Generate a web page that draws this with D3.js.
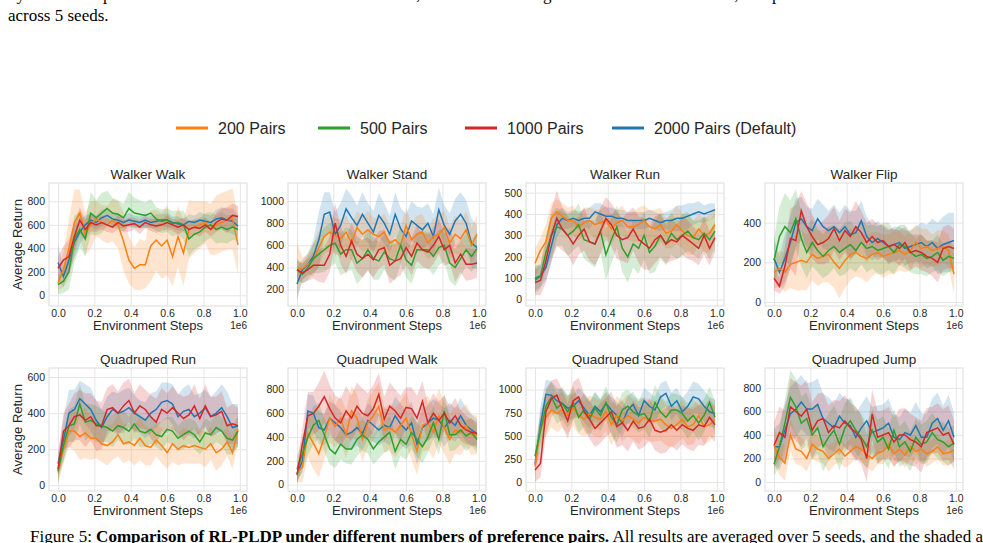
<!DOCTYPE html>
<html>
<head>
<meta charset="utf-8">
<script src="https://cdn.jsdelivr.net/npm/d3@7"></script>
<style>
  body { margin: 0; background: #fff; }
  svg { display: block; }
  text { font-family: 'Liberation Sans', Arial, sans-serif; fill: #262626; }
  .caption { font-family: 'Liberation Serif', 'Times New Roman', serif; fill: #000; }
</style>
</head>
<body>
<svg id="d" width="983" height="543"></svg>
<script>
(function (d3) {
  'use strict';

  // x positions (in 1e6 environment steps)
  const steps = [0, 0.03, 0.06, 0.09, 0.12, 0.15, 0.18, 0.21, 0.24, 0.27, 0.30, 0.33, 0.36, 0.39, 0.42, 0.45, 0.48,
    0.51, 0.54, 0.57, 0.60, 0.63, 0.66, 0.69, 0.72, 0.75, 0.78, 0.81, 0.84, 0.87, 0.90, 0.93, 0.96, 0.99];

  const seriesNames = ['200 Pairs', '500 Pairs', '1000 Pairs', '2000 Pairs (Default)'];
  const seriesKeys = ['p200', 'p500', 'p1000', 'p2000'];

  // ---- Walker Walk ----
  const walkerWalk2000 = [280, 160, 300, 450, 540, 600, 640, 620, 660, 680, 650, 640, 620, 640, 630, 620, 640, 620, 630, 640, 640, 620, 610, 600, 630, 620, 640, 630, 620, 650, 660, 640, 630, 590];
  const walkerWalk1000 = [230, 300, 330, 500, 640, 560, 620, 600, 620, 600, 580, 620, 590, 600, 610, 580, 620, 600, 590, 600, 620, 600, 580, 600, 560, 580, 570, 600, 560, 620, 650, 640, 680, 670];
  const walkerWalk500 = [90, 120, 200, 480, 560, 480, 700, 660, 700, 740, 700, 690, 660, 740, 700, 690, 680, 700, 650, 630, 640, 610, 620, 600, 480, 520, 540, 580, 600, 560, 580, 560, 580, 560];
  const walkerWalk200 = [100, 220, 400, 620, 700, 520, 600, 650, 620, 600, 640, 600, 460, 300, 230, 260, 260, 420, 470, 420, 470, 330, 500, 360, 560, 580, 600, 620, 560, 600, 620, 640, 650, 430];
  const walkerWalk2000Sd = [150, 90, 110, 130, 110, 80, 60, 60, 70, 60, 50, 60, 50, 60, 50, 50, 60, 50, 60, 50, 60, 50, 60, 50, 60, 60, 70, 60, 60, 80, 90, 100, 110, 90];
  const walkerWalk1000Sd = [100, 120, 150, 120, 110, 90, 80, 60, 60, 60, 50, 60, 50, 60, 50, 60, 50, 50, 60, 50, 60, 50, 60, 60, 60, 60, 70, 60, 60, 80, 90, 110, 100, 90];
  const walkerWalk500Sd = [80, 100, 150, 200, 150, 150, 180, 150, 170, 150, 130, 120, 120, 140, 130, 120, 110, 120, 100, 100, 100, 110, 100, 120, 150, 130, 120, 120, 110, 120, 130, 120, 110, 100];
  const walkerWalk200Sd = [60, 150, 250, 280, 200, 180, 200, 150, 150, 160, 180, 200, 250, 200, 180, 220, 200, 300, 260, 280, 300, 250, 260, 280, 250, 220, 200, 180, 220, 250, 250, 250, 260, 250];

  // ---- Walker Stand ----
  const walkerStand2000 = [250, 380, 430, 500, 650, 880, 900, 700, 780, 930, 850, 780, 880, 800, 720, 870, 800, 700, 880, 750, 680, 820, 780, 740, 800, 680, 920, 780, 700, 820, 880, 800, 620, 580];
  const walkerStand1000 = [380, 350, 380, 420, 420, 420, 520, 800, 600, 500, 640, 520, 480, 520, 470, 560, 580, 420, 460, 480, 580, 500, 620, 560, 540, 600, 680, 560, 600, 440, 520, 430, 430, 440];
  const walkerStand500 = [380, 340, 400, 480, 520, 560, 600, 620, 520, 560, 560, 440, 480, 560, 480, 460, 540, 480, 460, 600, 470, 420, 560, 560, 560, 500, 580, 600, 440, 400, 480, 560, 500, 570];
  const walkerStand200 = [380, 390, 430, 470, 580, 680, 720, 690, 660, 720, 620, 760, 700, 740, 700, 680, 720, 620, 650, 600, 780, 650, 700, 720, 620, 680, 700, 760, 620, 700, 660, 740, 600, 700];
  const walkerStand2000Sd = [150, 90, 100, 150, 250, 200, 180, 200, 200, 180, 200, 180, 200, 180, 190, 200, 180, 170, 200, 190, 200, 180, 170, 200, 180, 200, 200, 180, 190, 200, 200, 210, 220, 200];
  const walkerStand1000Sd = [80, 90, 100, 120, 150, 160, 160, 180, 170, 160, 170, 160, 170, 150, 160, 170, 160, 170, 160, 150, 160, 170, 160, 150, 160, 170, 160, 150, 160, 170, 160, 150, 140, 130];
  const walkerStand500Sd = [100, 90, 110, 130, 170, 200, 200, 180, 190, 200, 180, 190, 170, 180, 190, 170, 160, 170, 180, 170, 160, 170, 160, 170, 160, 170, 160, 150, 160, 170, 160, 150, 140, 150];
  const walkerStand200Sd = [250, 100, 90, 150, 160, 150, 170, 160, 170, 150, 160, 150, 160, 170, 150, 160, 170, 160, 150, 170, 160, 150, 170, 160, 150, 160, 170, 160, 150, 170, 160, 170, 160, 170];

  // ---- Walker Run ----
  const walkerRun2000 = [100, 110, 150, 250, 350, 380, 370, 380, 370, 380, 380, 410, 400, 390, 390, 380, 380, 370, 370, 370, 370, 380, 370, 360, 370, 370, 380, 380, 390, 400, 410, 400, 410, 420];
  const walkerRun1000 = [80, 90, 180, 300, 380, 330, 300, 260, 300, 330, 270, 260, 320, 380, 350, 300, 280, 290, 330, 280, 260, 240, 280, 300, 260, 280, 270, 300, 280, 260, 240, 300, 240, 290];
  const walkerRun500 = [90, 110, 220, 300, 340, 330, 300, 320, 350, 280, 270, 260, 320, 210, 280, 340, 240, 200, 260, 240, 300, 220, 250, 300, 260, 310, 280, 300, 320, 290, 280, 310, 280, 320];
  const walkerRun200 = [170, 230, 270, 380, 410, 390, 370, 370, 340, 360, 370, 350, 360, 370, 330, 360, 370, 340, 340, 350, 370, 340, 330, 350, 310, 320, 350, 320, 300, 290, 330, 300, 310, 350];
  const walkerRun2000Sd = [60, 50, 60, 80, 60, 50, 40, 40, 40, 40, 50, 40, 50, 40, 40, 40, 40, 40, 40, 40, 40, 40, 40, 40, 40, 50, 60, 60, 60, 50, 50, 40, 40, 30];
  const walkerRun1000Sd = [60, 70, 100, 120, 130, 100, 90, 100, 90, 100, 90, 100, 110, 100, 100, 110, 100, 120, 100, 110, 120, 100, 110, 100, 90, 100, 80, 90, 90, 80, 80, 90, 80, 70];
  const walkerRun500Sd = [60, 60, 80, 100, 90, 80, 100, 90, 100, 90, 100, 110, 100, 120, 110, 100, 110, 120, 110, 120, 110, 100, 120, 110, 100, 100, 90, 100, 90, 80, 90, 80, 90, 80];
  const walkerRun200Sd = [70, 60, 80, 70, 60, 60, 60, 70, 60, 70, 60, 70, 60, 70, 70, 60, 70, 60, 70, 80, 70, 80, 90, 80, 70, 80, 90, 80, 90, 80, 70, 80, 90, 80];

  // ---- Walker Flip ----
  const walkerFlip2000 = [220, 150, 220, 300, 400, 420, 380, 360, 420, 380, 360, 380, 350, 380, 340, 350, 410, 330, 300, 320, 300, 280, 290, 300, 270, 280, 290, 300, 280, 300, 270, 290, 300, 310];
  const walkerFlip1000 = [120, 80, 180, 320, 310, 460, 380, 330, 290, 300, 320, 370, 310, 360, 330, 380, 350, 300, 330, 300, 310, 280, 290, 270, 300, 250, 260, 250, 230, 220, 200, 270, 280, 270];
  const walkerFlip500 = [210, 330, 380, 350, 420, 320, 250, 300, 260, 230, 260, 280, 250, 270, 290, 260, 300, 270, 280, 260, 270, 280, 250, 290, 280, 250, 230, 240, 220, 230, 250, 210, 230, 220];
  const walkerFlip200 = [150, 170, 150, 190, 200, 210, 200, 240, 220, 230, 240, 200, 170, 210, 240, 250, 230, 220, 240, 250, 230, 240, 250, 260, 240, 260, 300, 270, 280, 260, 270, 280, 260, 140];
  const walkerFlip2000Sd = [100, 80, 120, 130, 120, 110, 100, 110, 100, 110, 100, 110, 100, 110, 120, 110, 100, 100, 90, 90, 80, 80, 90, 80, 90, 80, 90, 100, 110, 120, 130, 140, 150, 140];
  const walkerFlip1000Sd = [60, 40, 100, 150, 180, 100, 120, 110, 100, 110, 120, 110, 100, 110, 120, 130, 110, 100, 90, 90, 80, 90, 80, 90, 80, 90, 80, 90, 80, 90, 100, 110, 110, 100];
  const walkerFlip500Sd = [110, 150, 170, 160, 150, 140, 130, 120, 110, 110, 120, 110, 120, 130, 120, 110, 110, 120, 110, 120, 130, 120, 110, 100, 110, 100, 90, 100, 90, 80, 90, 80, 80, 70];
  const walkerFlip200Sd = [80, 90, 100, 120, 140, 150, 140, 130, 140, 130, 140, 130, 150, 140, 130, 120, 110, 120, 110, 100, 110, 100, 110, 100, 90, 100, 90, 100, 90, 80, 90, 80, 80, 100];

  // ---- Quadruped Run ----
  const quadRun2000 = [120, 250, 400, 420, 480, 450, 420, 360, 320, 380, 420, 400, 410, 430, 400, 380, 360, 400, 420, 460, 470, 450, 380, 410, 420, 380, 400, 430, 380, 400, 430, 380, 320, 330];
  const quadRun1000 = [90, 300, 330, 380, 390, 360, 380, 330, 330, 420, 430, 400, 440, 470, 400, 440, 420, 380, 350, 420, 400, 430, 400, 370, 390, 440, 370, 440, 380, 390, 410, 330, 340, 330];
  const quadRun500 = [80, 220, 330, 340, 450, 350, 360, 340, 330, 320, 300, 330, 320, 300, 340, 300, 290, 310, 280, 270, 310, 300, 260, 280, 300, 280, 240, 290, 280, 320, 300, 260, 250, 300];
  const quadRun200 = [70, 200, 300, 300, 270, 290, 260, 260, 230, 220, 240, 280, 230, 240, 220, 260, 220, 210, 250, 220, 180, 230, 200, 220, 210, 220, 210, 200, 230, 180, 200, 240, 180, 310];
  const quadRun2000Sd = [60, 120, 130, 110, 100, 110, 120, 110, 100, 110, 100, 110, 120, 110, 100, 90, 100, 110, 100, 110, 100, 110, 120, 130, 140, 120, 110, 100, 110, 120, 130, 140, 130, 120];
  const quadRun1000Sd = [70, 100, 120, 130, 140, 150, 130, 140, 130, 120, 130, 120, 130, 120, 110, 120, 110, 120, 130, 120, 110, 120, 110, 120, 110, 120, 110, 120, 110, 100, 110, 100, 110, 100];
  const quadRun500Sd = [60, 80, 90, 100, 110, 100, 90, 100, 90, 80, 90, 80, 90, 80, 80, 90, 80, 80, 70, 80, 70, 80, 70, 80, 70, 80, 70, 80, 70, 80, 80, 90, 80, 80];
  const quadRun200Sd = [60, 80, 90, 110, 130, 140, 120, 110, 100, 110, 100, 120, 110, 100, 110, 120, 110, 100, 90, 100, 90, 100, 90, 100, 90, 100, 90, 100, 90, 100, 90, 80, 90, 80];

  // ---- Quadruped Walk ----
  const quadWalk2000 = [90, 200, 620, 600, 480, 460, 560, 520, 480, 420, 440, 480, 430, 540, 500, 460, 500, 480, 580, 510, 460, 520, 340, 480, 520, 560, 540, 480, 540, 500, 580, 500, 460, 430];
  const quadWalk1000 = [80, 340, 580, 600, 660, 740, 640, 560, 520, 620, 560, 660, 600, 580, 640, 760, 550, 660, 620, 560, 650, 640, 560, 700, 520, 600, 540, 600, 520, 580, 500, 460, 440, 430];
  const quadWalk500 = [130, 260, 400, 500, 540, 420, 300, 260, 340, 300, 300, 380, 420, 380, 300, 360, 400, 440, 280, 380, 340, 440, 380, 320, 400, 520, 380, 620, 420, 420, 460, 410, 440, 380];
  const quadWalk200 = [100, 150, 430, 350, 260, 400, 560, 490, 560, 420, 620, 560, 380, 520, 580, 660, 460, 480, 440, 500, 560, 420, 280, 500, 520, 440, 580, 480, 380, 460, 440, 500, 420, 420];
  const quadWalk2000Sd = [60, 100, 140, 150, 140, 130, 140, 150, 140, 130, 140, 150, 140, 150, 140, 130, 140, 150, 160, 170, 160, 180, 170, 160, 150, 160, 150, 160, 150, 140, 150, 140, 130, 120];
  const quadWalk1000Sd = [80, 150, 200, 180, 200, 220, 200, 190, 200, 210, 190, 200, 210, 190, 200, 180, 190, 200, 180, 190, 170, 180, 190, 170, 160, 170, 160, 150, 140, 150, 130, 120, 110, 100];
  const quadWalk500Sd = [110, 140, 150, 160, 150, 140, 130, 120, 130, 120, 130, 140, 130, 120, 130, 140, 130, 140, 150, 140, 130, 140, 150, 140, 130, 140, 130, 150, 140, 130, 120, 130, 120, 110];
  const quadWalk200Sd = [80, 130, 200, 220, 200, 190, 200, 180, 190, 200, 210, 200, 190, 200, 210, 200, 190, 200, 210, 200, 220, 210, 200, 220, 230, 220, 230, 220, 210, 200, 190, 180, 170, 160];

  // ---- Quadruped Stand ----
  const quadStand2000 = [200, 620, 950, 940, 880, 850, 800, 820, 880, 800, 720, 820, 760, 850, 780, 720, 640, 780, 840, 720, 880, 820, 780, 920, 960, 820, 880, 760, 820, 920, 900, 820, 760, 740];
  const quadStand1000 = [130, 200, 760, 900, 940, 800, 660, 880, 920, 760, 680, 580, 640, 700, 760, 600, 640, 560, 660, 580, 600, 680, 560, 540, 560, 620, 560, 620, 580, 560, 620, 600, 700, 620];
  const quadStand500 = [280, 550, 820, 920, 800, 850, 760, 860, 700, 780, 680, 800, 720, 860, 700, 620, 780, 820, 760, 720, 740, 660, 860, 760, 700, 780, 780, 740, 660, 720, 640, 720, 860, 700];
  const quadStand200 = [170, 580, 700, 780, 740, 780, 720, 800, 720, 680, 740, 700, 680, 760, 620, 720, 660, 720, 680, 640, 700, 660, 660, 680, 620, 580, 620, 680, 600, 620, 720, 600, 620, 680];
  const quadStand2000Sd = [80, 200, 160, 150, 140, 150, 140, 130, 140, 150, 140, 150, 140, 130, 140, 150, 160, 150, 140, 150, 140, 150, 140, 150, 140, 150, 140, 150, 160, 170, 160, 170, 160, 150];
  const quadStand1000Sd = [130, 150, 250, 200, 180, 200, 190, 200, 210, 200, 210, 200, 220, 210, 220, 230, 240, 230, 220, 230, 220, 230, 220, 230, 240, 230, 220, 210, 220, 230, 220, 210, 200, 190];
  const quadStand500Sd = [120, 200, 180, 160, 170, 180, 170, 180, 170, 180, 190, 180, 170, 180, 190, 200, 190, 180, 170, 180, 170, 180, 190, 180, 170, 180, 170, 180, 190, 180, 190, 180, 170, 180];
  const quadStand200Sd = [120, 180, 200, 190, 200, 190, 200, 190, 200, 190, 200, 210, 200, 210, 220, 210, 220, 230, 220, 230, 220, 230, 220, 230, 220, 210, 200, 210, 200, 210, 200, 190, 180, 170];

  // ---- Quadruped Jump ----
  const quadJump2000 = [300, 300, 440, 580, 620, 680, 620, 620, 660, 540, 500, 460, 560, 500, 480, 380, 460, 520, 420, 440, 460, 500, 380, 360, 420, 400, 480, 380, 380, 500, 540, 440, 520, 380];
  const quadJump1000 = [310, 420, 380, 640, 600, 560, 620, 440, 520, 540, 420, 480, 460, 520, 460, 420, 360, 200, 580, 380, 400, 420, 340, 400, 400, 360, 340, 300, 420, 440, 460, 400, 420, 320];
  const quadJump500 = [150, 300, 500, 720, 640, 500, 540, 400, 460, 300, 380, 440, 320, 460, 520, 440, 380, 300, 440, 340, 380, 280, 440, 300, 340, 260, 380, 320, 340, 420, 360, 340, 300, 330];
  const quadJump200 = [310, 210, 160, 400, 280, 260, 200, 320, 280, 260, 200, 240, 280, 220, 260, 300, 280, 230, 200, 250, 260, 320, 240, 280, 230, 300, 260, 280, 240, 260, 300, 240, 250, 270];
  const quadJump2000Sd = [150, 200, 220, 230, 240, 230, 220, 230, 220, 210, 220, 210, 200, 210, 220, 210, 200, 210, 220, 210, 200, 210, 200, 190, 200, 190, 200, 210, 200, 210, 220, 210, 220, 210];
  const quadJump1000Sd = [200, 220, 230, 240, 250, 260, 250, 240, 230, 220, 230, 220, 230, 220, 210, 220, 210, 200, 210, 220, 210, 220, 210, 220, 230, 220, 210, 220, 210, 200, 210, 220, 230, 210];
  const quadJump500Sd = [100, 160, 200, 230, 240, 230, 220, 210, 220, 210, 200, 210, 220, 210, 200, 190, 200, 190, 180, 190, 180, 170, 180, 170, 180, 170, 160, 170, 180, 170, 160, 170, 160, 150];
  const quadJump200Sd = [150, 150, 150, 140, 130, 120, 110, 120, 110, 100, 110, 100, 110, 100, 110, 100, 110, 100, 110, 100, 110, 100, 110, 100, 110, 100, 110, 100, 110, 100, 110, 100, 110, 100];

  const xTicks = [0, 0.2, 0.4, 0.6, 0.8, 1.0];

  const tasks = [
    { title: 'Walker Walk', yDomain: [-91, 956], yTicks: [0, 200, 400, 600, 800],
      mean: { p200: walkerWalk200, p500: walkerWalk500, p1000: walkerWalk1000, p2000: walkerWalk2000 },
      sd: { p200: walkerWalk200Sd, p500: walkerWalk500Sd, p1000: walkerWalk1000Sd, p2000: walkerWalk2000Sd } },
    { title: 'Walker Stand', yDomain: [52, 1163], yTicks: [200, 400, 600, 800, 1000],
      mean: { p200: walkerStand200, p500: walkerStand500, p1000: walkerStand1000, p2000: walkerStand2000 },
      sd: { p200: walkerStand200Sd, p500: walkerStand500Sd, p1000: walkerStand1000Sd, p2000: walkerStand2000Sd } },
    { title: 'Walker Run', yDomain: [-30, 545], yTicks: [0, 100, 200, 300, 400, 500],
      mean: { p200: walkerRun200, p500: walkerRun500, p1000: walkerRun1000, p2000: walkerRun2000 },
      sd: { p200: walkerRun200Sd, p500: walkerRun500Sd, p1000: walkerRun1000Sd, p2000: walkerRun2000Sd } },
    { title: 'Walker Flip', yDomain: [-20, 600], yTicks: [0, 200, 400],
      mean: { p200: walkerFlip200, p500: walkerFlip500, p1000: walkerFlip1000, p2000: walkerFlip2000 },
      sd: { p200: walkerFlip200Sd, p500: walkerFlip500Sd, p1000: walkerFlip1000Sd, p2000: walkerFlip2000Sd } },
    { title: 'Quadruped Run', yDomain: [-32, 650], yTicks: [0, 200, 400, 600],
      mean: { p200: quadRun200, p500: quadRun500, p1000: quadRun1000, p2000: quadRun2000 },
      sd: { p200: quadRun200Sd, p500: quadRun500Sd, p1000: quadRun1000Sd, p2000: quadRun2000Sd } },
    { title: 'Quadruped Walk', yDomain: [-54, 982], yTicks: [0, 200, 400, 600, 800],
      mean: { p200: quadWalk200, p500: quadWalk500, p1000: quadWalk1000, p2000: quadWalk2000 },
      sd: { p200: quadWalk200Sd, p500: quadWalk500Sd, p1000: quadWalk1000Sd, p2000: quadWalk2000Sd } },
    { title: 'Quadruped Stand', yDomain: [-97, 1234], yTicks: [0, 250, 500, 750, 1000],
      mean: { p200: quadStand200, p500: quadStand500, p1000: quadStand1000, p2000: quadStand2000 },
      sd: { p200: quadStand200Sd, p500: quadStand500Sd, p1000: quadStand1000Sd, p2000: quadStand2000Sd } },
    { title: 'Quadruped Jump', yDomain: [-77, 970], yTicks: [0, 200, 400, 600, 800],
      mean: { p200: quadJump200, p500: quadJump500, p1000: quadJump1000, p2000: quadJump2000 },
      sd: { p200: quadJump200Sd, p500: quadJump500Sd, p1000: quadJump1000Sd, p2000: quadJump2000Sd } }
  ];

  const color = d3.scaleOrdinal()
    .domain(seriesKeys)
    .range(['#ff7f0e', '#2ca02c', '#d62728', '#1f77b4']);

  // blue first, red last (matches stacking in the figure)
  const drawOrder = ['p2000', 'p200', 'p500', 'p1000'];

  const svg = d3.select('#d');

  // caption fragments
  svg.append('text').attr('class', 'caption')
    .attr('x', 8).attr('y', 0).attr('font-size', 17)
    .text('by the mean episode return. The solid lines denote the mean, and the shaded regions the standard deviation, computed');
  svg.append('text').attr('class', 'caption')
    .attr('x', 8).attr('y', 21).attr('font-size', 17)
    .text('across 5 seeds.');
  svg.append('text').attr('class', 'caption')
    .attr('x', 30).attr('y', 542).attr('font-size', 17)
    .html('Figure 5: <tspan font-weight="bold">Comparison of RL-PLDP under different numbers of preference pairs.</tspan> All results are averaged over 5 seeds, and the shaded area is the std.');

  // legend
  const legendX = [176, 318, 465, 612];
  const legend = svg.append('g');
  seriesKeys.forEach((k, i) => {
    legend.append('line')
      .attr('x1', legendX[i]).attr('x2', legendX[i] + 32)
      .attr('y1', 128).attr('y2', 128)
      .attr('stroke', color(k)).attr('stroke-width', 3);
    legend.append('text')
      .attr('x', legendX[i] + 42).attr('y', 134)
      .attr('font-size', 16)
      .text(seriesNames[i]);
  });

  const lefts = [49, 288, 526, 765];
  const tops = [183, 368];
  const pw = 198;
  const ph = 123;

  const xScale = d3.scaleLinear().domain([-0.0495, 1.0395]).range([0, pw]);

  tasks.forEach((task, ti) => {
    const col = ti % 4;
    const row = Math.floor(ti / 4);
    const g = svg.append('g')
      .attr('transform', `translate(${lefts[col]},${tops[row]})`);

    const yScale = d3.scaleLinear().domain(task.yDomain).range([ph, 0]);

    const clipId = 'clip' + ti;
    g.append('clipPath').attr('id', clipId)
      .append('rect').attr('width', pw).attr('height', ph);

    // grid + tick labels
    const xAxisG = g.append('g')
      .attr('transform', `translate(0,${ph})`)
      .call(d3.axisBottom(xScale).tickValues(xTicks).tickFormat(d3.format('.1f'))
        .tickSize(-ph).tickPadding(3.5));
    const yAxisG = g.append('g')
      .call(d3.axisLeft(yScale).tickValues(task.yTicks).tickFormat(d3.format('d'))
        .tickSize(-pw).tickPadding(4));

    [xAxisG, yAxisG].forEach(a => {
      a.select('.domain').remove();
      a.selectAll('.tick line').attr('stroke', '#e6e6e6').attr('stroke-width', 1);
      a.selectAll('.tick text')
        .attr('font-family', "'Liberation Sans', Arial, sans-serif")
        .attr('font-size', 10.5)
        .attr('fill', '#262626');
    });

    // frame
    g.append('rect')
      .attr('width', pw).attr('height', ph)
      .attr('fill', 'none').attr('stroke', '#dcdcdc').attr('stroke-width', 1);

    const plot = g.append('g').attr('clip-path', `url(#${clipId})`);

    drawOrder.forEach(k => {
      const mean = task.mean[k];
      const sd = task.sd[k];
      const pts = steps.map((s, i) => ({ x: s, m: mean[i], s: sd[i] }));

      plot.append('path')
        .datum(pts)
        .attr('fill', color(k))
        .attr('fill-opacity', 0.2)
        .attr('d', d3.area()
          .x(d => xScale(d.x))
          .y0(d => yScale(d.m - d.s))
          .y1(d => yScale(d.m + d.s)));
    });

    drawOrder.forEach(k => {
      const mean = task.mean[k];
      const pts = steps.map((s, i) => ({ x: s, m: mean[i] }));
      plot.append('path')
        .datum(pts)
        .attr('fill', 'none')
        .attr('stroke', color(k))
        .attr('stroke-width', 1.5)
        .attr('d', d3.line()
          .x(d => xScale(d.x))
          .y(d => yScale(d.m)));
    });

    g.append('text')
      .attr('x', pw / 2).attr('y', -4.5)
      .attr('text-anchor', 'middle')
      .attr('font-size', 13.5)
      .text(task.title);

    g.append('text')
      .attr('x', pw / 2).attr('y', ph + 24)
      .attr('text-anchor', 'middle')
      .attr('font-size', 13)
      .text('Environment Steps');

    g.append('text')
      .attr('x', pw).attr('y', ph + 22.5)
      .attr('text-anchor', 'end')
      .attr('font-size', 10)
      .text('1e6');

    if (col === 0) {
      g.append('text')
        .attr('transform', `translate(${-27},${ph / 2}) rotate(-90)`)
        .attr('text-anchor', 'middle')
        .attr('font-size', 13)
        .text('Average Return');
    }
  });

}(d3));
</script>
</body>
</html>
